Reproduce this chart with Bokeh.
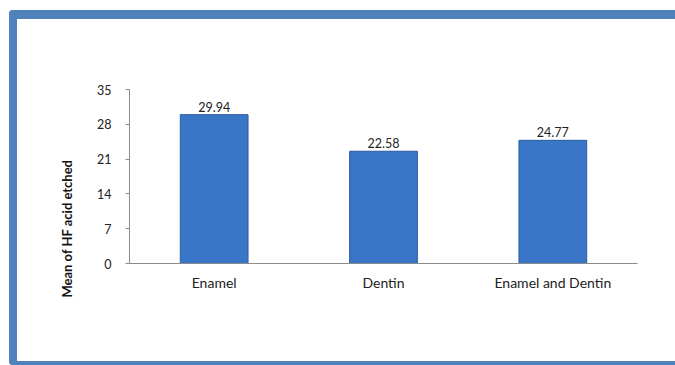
from bokeh.plotting import figure
from bokeh.models import Range1d, FactorRange, Title, FixedTicker
from bokeh.core.properties import value
from bokeh.embed import file_html
from bokeh.resources import INLINE

categories = ["Enamel", "Dentin", "Enamel and Dentin"]
means = [29.94, 22.58, 24.77]
mean_labels = ["29.94", "22.58", "24.77"]
y_ticks = [0, 7, 14, 21, 28, 35]
y_title = "Mean of HF acid etched"

FONT = "Lato"
BLUE_FRAME = "#4F81BD"

p = figure(
    width=666, height=355,
    x_range=FactorRange(*categories, range_padding=0),
    y_range=Range1d(0, 35),
    output_backend="svg", toolbar_location=None,
    min_border_left=112, min_border_right=46,
    min_border_top=70, min_border_bottom=111,
    background_fill_color="white", border_fill_color="white",
    styles={
        "margin-left": "9px", "margin-top": "10px",
        "border-left": f"8px solid {BLUE_FRAME}",
        "border-top": f"9px solid {BLUE_FRAME}",
        "border-bottom": f"4px solid {BLUE_FRAME}",
        "border-top-left-radius": "4px",
        "border-bottom-left-radius": "4px",
    },
)
p.outline_line_color = None
p.grid.grid_line_color = None

p.vbar(x=categories, top=means, width=0.4, fill_color="#3A76C8",
       line_color="#2B5C9F", line_width=1)
p.text(x=categories, y=means, text=mean_labels, y_offset=-3,
       text_align="center", text_baseline="bottom",
       text_font=value(FONT), text_font_size="12.5px", text_color="#222222")

# y axis
ya = p.yaxis[0]
ya.ticker = FixedTicker(ticks=y_ticks)
ya.axis_line_color = "#8C8C8C"
ya.major_tick_line_color = "#8C8C8C"
ya.major_tick_out = 4
ya.major_tick_in = 0
ya.minor_tick_line_color = None
ya.major_label_text_font = FONT
ya.major_label_text_font_size = "12.5px"
ya.major_label_text_color = "#222222"
ya.major_label_standoff = 14

# x axis
xa = p.xaxis[0]
xa.axis_line_color = "#8C8C8C"
xa.major_tick_line_color = None
xa.minor_tick_line_color = None
xa.major_label_text_font = FONT
xa.major_label_text_font_size = "14px"
xa.major_label_text_color = "#222222"
xa.major_label_standoff = 4

# y axis title as a side title, starting below the axis like the reference
p.add_layout(Title(text=y_title, align="left", offset=-34, standoff=40,
                   text_font=FONT, text_font_style="bold",
                   text_font_size="13px", text_color="#111111"), "left")

open("out.html", "w").write(file_html(p, INLINE))
